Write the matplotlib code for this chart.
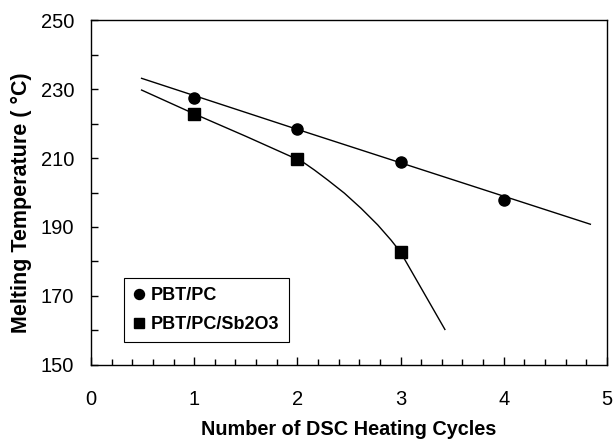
import matplotlib
matplotlib.use("Agg")
import matplotlib.pyplot as plt
from matplotlib.ticker import MultipleLocator

plt.rcParams['font.family'] = ['Liberation Sans', 'DejaVu Sans']

# measured data points
cycles_pc = [1, 2, 3, 4]
temp_pc = [227.5, 218.4, 208.8, 197.8]
cycles_sb = [1, 2, 3]
temp_sb = [222.8, 209.6, 182.7]

# trend curves
curve_pc_x = [0.49, 2.0, 4.84]
curve_pc_y = [233.1, 218.3, 190.8]
curve_sb_x = [0.49, 1.0, 1.5, 2.0, 2.07, 2.166, 2.295, 2.456, 2.618, 2.779, 2.908, 3.0, 3.43]
curve_sb_y = [229.7, 222.8, 216.3, 209.6, 208.5, 206.5, 203.6, 199.8, 195.4, 190.6, 186.2, 182.7, 160.3]

xticks = [0, 1, 2, 3, 4, 5]
yticks = [150, 170, 190, 210, 230, 250]

fig = plt.figure(figsize=(6.13, 4.40), dpi=100)
ax = fig.add_axes([0.1485, 0.1705, 0.8415, 0.784])

ax.plot(curve_pc_x, curve_pc_y, color='black', lw=1.0)
ax.plot(curve_sb_x, curve_sb_y, color='black', lw=1.0)
ax.plot(cycles_pc, temp_pc, 'o', color='black', ms=8, label='PBT/PC')
ax.plot(cycles_sb, temp_sb, 's', color='black', ms=8, label='PBT/PC/Sb2O3')

ax.set_xlim(0, 5)
ax.set_ylim(150, 250)
ax.set_xticks(xticks)
ax.set_yticks(yticks)
ax.xaxis.set_minor_locator(MultipleLocator(0.2))
ax.yaxis.set_minor_locator(MultipleLocator(10))
ax.tick_params(axis='both', which='both', direction='in', labelsize=14.5, width=1)
ax.tick_params(axis='x', which='major', length=6, pad=18)
ax.tick_params(axis='x', which='minor', length=4)
ax.tick_params(axis='y', which='major', length=5, pad=12)
ax.tick_params(axis='y', which='minor', length=5)
ax.tick_params(top=False, right=False, which='both')
for s in ax.spines.values():
    s.set_linewidth(1.0)

ax.set_xlabel('Number of DSC Heating Cycles', fontsize=14.3, fontweight='bold', labelpad=8)
ax.set_ylabel('Melting Temperature ( °C)', fontsize=15.5, fontweight='bold', labelpad=4)
ax.yaxis.set_label_coords(-0.115, 0.47)

leg = ax.legend(loc='lower left', bbox_to_anchor=(0.064, 0.067), borderaxespad=0,
                fancybox=False, edgecolor='black', framealpha=1,
                prop={'weight': 'bold', 'size': 13}, handlelength=0.7,
                handletextpad=0.3, borderpad=0.5, labelspacing=0.65, markerscale=0.9)
leg.get_frame().set_linewidth(0.8)

fig.savefig('out.png', dpi=100)
